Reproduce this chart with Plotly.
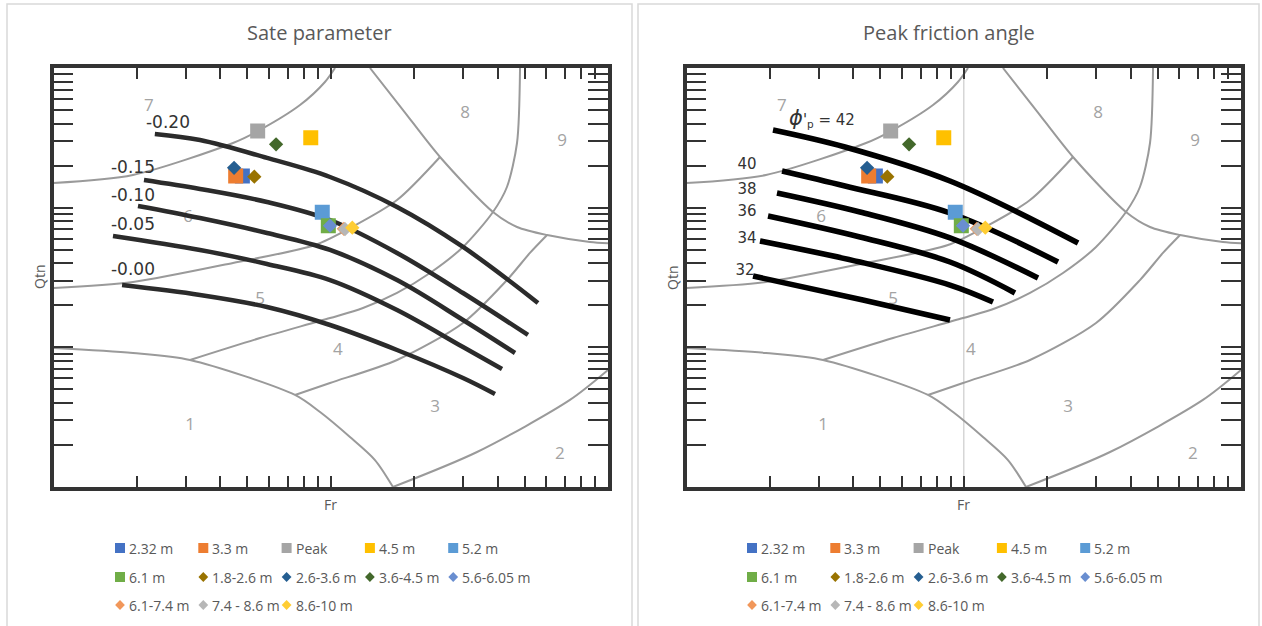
import plotly.graph_objects as go

W, H = 1262, 626

# ---------------- CPT measurements (normalised friction ratio Fr %, Qtn) ----------------
series_names = ["2.32 m", "3.3 m", "Peak", "4.5 m", "5.2 m", "6.1 m", "1.8-2.6 m",
                "2.6-3.6 m", "3.6-4.5 m", "5.6-6.05 m", "6.1-7.4 m", "7.4 - 8.6 m", "8.6-10 m"]
series_fr = [0.480, 0.454, 0.545, 0.847, 0.932, 0.980, 0.530, 0.448, 0.635, 0.994, 1.115, 1.126, 1.196]
series_qtn = [168.6, 168.6, 354.0, 317.0, 92.6, 74.3, 166.6, 193.0, 284.0, 74.3, 70.5, 70.3, 71.9]
series_colors = ["#4472C4", "#ED7D31", "#A5A5A5", "#FFC000", "#5B9BD5", "#70AD47", "#997300",
                 "#255E91", "#43682B", "#698ED0", "#F1975A", "#B7B7B7", "#FFCD33"]
series_symbols = ["square"] * 6 + ["diamond"] * 7

# ---------------- Soil behaviour type zone boundaries (Robertson chart) ----------------
zone_fr = [
    [0.1, 0.1935, 0.3107, 0.743, 0.915, 1.173, 1.444, 1.677],                       # zone 1
    [1.677, 3.37, 7.29, 10.0],                                                       # 2 / 3
    [0.743, 0.994, 1.734, 3.0, 4.32, 5.23, 6.03],                                    # 3 / 4
    [0.3107, 0.5558, 0.994, 1.307, 1.734, 2.28, 3.0, 3.847, 4.32, 4.697, 4.816],     # 4 / 5 and 8 / 9
    [0.1, 0.1935, 0.444, 0.877, 1.193, 1.734, 2.478],                                # 5 / 6
    [0.1, 0.1935, 0.444, 0.5464, 0.7747, 0.953, 1.036],                              # 6 / 7
    [1.385, 1.823, 2.478, 3.847, 4.697, 6.03, 8.61, 10.0],                           # 8 - 9 limit
]
zone_qtn = [
    [9.89, 9.11, 8.12, 4.56, 3.44, 2.28, 1.56, 1.0],
    [1.0, 1.78, 4.2, 6.88],
    [4.56, 5.56, 8.12, 14.94, 30.3, 47.4, 63.7],
    [8.12, 11.66, 16.2, 19.12, 24.5, 34.05, 52.3, 93.1, 140.6, 290.4, 1000.0],
    [26.6, 29.4, 40.2, 54.0, 72.7, 113.4, 230.6],
    [150.2, 171.3, 290.4, 353.9, 543.0, 794.0, 1000.0],
    [1000.0, 500.0, 230.6, 93.1, 72.7, 63.7, 56.8, 55.6],
]
zone_labels = ["1", "2", "3", "4", "5", "6", "7", "8", "9"]
zone_label_fr = [0.3107, 6.71, 2.377, 1.062, 0.5558, 0.3057, 0.221, 3.05, 6.83]
zone_label_qtn = [2.73, 1.694, 3.68, 9.41, 21.8, 84.3, 525.8, 468.4, 295.2]

# ---------------- State parameter contours ----------------
psi_labels = ["-0.20", "-0.15", "-0.10", "-0.05", "-0.00"]
psi_fr = [
    [0.232, 0.3376, 0.589, 0.994, 1.734, 3.0, 5.59],
    [0.212, 0.3376, 0.589, 0.994, 1.734, 3.0, 5.145],
    [0.2017, 0.3376, 0.589, 0.994, 1.734, 3.0, 4.62],
    [0.1639, 0.3376, 0.589, 0.994, 1.734, 3.0, 4.147],
    [0.1767, 0.3376, 0.589, 0.994, 1.734, 3.0, 3.912],
]
psi_qtn = [
    [337.0, 305.0, 227.0, 165.8, 101.1, 52.3, 20.8],
    [157.8, 136.1, 109.8, 81.6, 47.4, 24.5, 12.26],
    [102.8, 84.3, 65.9, 49.8, 30.3, 15.7, 9.11],
    [62.7, 49.8, 39.5, 30.3, 18.5, 10.05, 7.0],
    [27.9, 23.7, 19.45, 14.45, 9.57, 6.03, 4.63],
]
psi_label_fr = [0.2588, 0.1935, 0.1935, 0.1935, 0.1935]
psi_label_qtn = [397.0, 189.2, 119.2, 73.9, 35.2]

# ---------------- Peak friction angle contours ----------------
phi_labels = ["<span style='font-size:21px'><i>ϕ</i></span>'<sub>p</sub> = 42", "40", "38", "36", "34", "32"]
phi_fr = [
    [0.2051, 0.373, 0.892, 2.584],
    [0.2211, 0.373, 0.892, 2.188],
    [0.212, 0.4224, 0.892, 1.853],
    [0.1968, 0.4224, 0.892, 1.530],
    [0.1841, 0.4224, 0.892, 1.275],
    [0.1738, 0.4330, 0.892],
]
phi_qtn = [
    [359.7, 271.8, 155.2, 55.8],
    [183.0, 142.9, 91.6, 40.8],
    [127.4, 93.1, 60.7, 31.4],
    [87.2, 61.7, 40.8, 24.5],
    [57.7, 40.8, 27.9, 21.1],
    [32.4, 21.8, 15.7],
]
phi_label_fr = [0.3081, 0.1652, 0.1652, 0.1652, 0.1652, 0.1626]
phi_label_qtn = [417.4, 202.0, 133.8, 93.1, 59.7, 35.2]

panel_titles = ["Sate parameter", "Peak friction angle"]

# ---------------- Layout geometry (pixels) ----------------
PLOT_L = [53.5, 686.5]
PLOT_W = 554.5
PLOT_TOP, PLOT_BOTTOM = 68, 487
FONT = "Open Sans, Lato, sans-serif"
TXT = "#595959"

fig = go.Figure()


def add_panel(xa, ya, contour_fr, contour_qtn, label_txt, label_fr, label_qtn, line_color, line_w,
              label_font, label_size, extra_vline=False):
    if extra_vline:
        # reference line at Fr = 1, beneath everything else
        fig.add_trace(go.Scatter(x=[1, 1], y=[1, 1000], mode="lines", xaxis=xa, yaxis=ya,
                                 line=dict(color="#d6d6d6", width=1.5), hoverinfo="skip", showlegend=False))
    for fr, q in zip(zone_fr, zone_qtn):
        fig.add_trace(go.Scatter(x=fr, y=q, mode="lines", xaxis=xa, yaxis=ya,
                                 line=dict(color="#9a9a9a", width=2, shape="spline", smoothing=0.8),
                                 hoverinfo="skip", showlegend=False))
    fig.add_trace(go.Scatter(x=zone_label_fr, y=zone_label_qtn, text=zone_labels, mode="text",
                             xaxis=xa, yaxis=ya, textfont=dict(family=FONT, size=17, color="#a3a3a3"),
                             hoverinfo="skip", showlegend=False))
    for fr, q in zip(contour_fr, contour_qtn):
        fig.add_trace(go.Scatter(x=fr, y=q, mode="lines", xaxis=xa, yaxis=ya,
                                 line=dict(color=line_color, width=line_w, shape="spline", smoothing=1.0),
                                 hoverinfo="skip", showlegend=False))
    fig.add_trace(go.Scatter(x=label_fr, y=label_qtn, text=label_txt, mode="text", xaxis=xa, yaxis=ya,
                             textfont=dict(family=label_font, size=label_size, color="#333333"),
                             hoverinfo="skip", showlegend=False))
    for name, fr, q, col, sym in zip(series_names, series_fr, series_qtn, series_colors, series_symbols):
        fig.add_trace(go.Scatter(x=[fr], y=[q], mode="markers", name=name, xaxis=xa, yaxis=ya,
                                 marker=dict(symbol=sym, color=col, size=15 if sym == "square" else 11,
                                             line=dict(width=0)),
                                 showlegend=False))


add_panel("x", "y", psi_fr, psi_qtn, psi_labels, psi_label_fr, psi_label_qtn, "#2b2b2b", 4.5,
          "DejaVu Sans", 17)
add_panel("x2", "y2", phi_fr, phi_qtn, phi_labels, phi_label_fr, phi_label_qtn, "#000000", 5.5,
          "DejaVu Sans", 15, extra_vline=True)

# ---------------- Legend keys drawn on a full-page overlay axis ----------------
LEG_X0 = [120, 752]
LEG_DX = 83.3
LEG_Y = [548, 577, 605]
for p in range(2):
    for i, (name, col, sym) in enumerate(zip(series_names, series_colors, series_symbols)):
        r, c = divmod(i, 5)
        kx = LEG_X0[p] + c * LEG_DX
        ky = LEG_Y[r]
        fig.add_trace(go.Scatter(x=[kx], y=[ky], mode="markers", xaxis="x3", yaxis="y3",
                                 marker=dict(symbol=sym, color=col, size=10 if sym == "square" else 7.5,
                                             line=dict(width=0)),
                                 hoverinfo="skip", showlegend=False))
        fig.add_annotation(x=kx + 7, y=ky, xref="x3", yref="y3", text=name, showarrow=False,
                           xanchor="left", yanchor="middle",
                           font=dict(family=FONT, size=14, color=TXT))

# ---------------- Axes ----------------
xt = [m * 10 ** e for e in (-1, 0) for m in range(1, 10)] + [10]
yt = [m * 10 ** e for e in (0, 1, 2) for m in range(1, 10)] + [1000]

common = dict(type="log", showgrid=False, zeroline=False, showticklabels=False, ticks="inside",
              tickwidth=2, tickcolor="#333333", showline=True, linewidth=3.5, linecolor="#333333",
              mirror="ticks", tickmode="array")
ydom = [(H - PLOT_BOTTOM) / H, (H - PLOT_TOP) / H]
layout_axes = {}
for k, (xa, ya) in enumerate([("xaxis", "yaxis"), ("xaxis2", "yaxis2")]):
    xd = [PLOT_L[k] / W, (PLOT_L[k] + PLOT_W) / W]
    layout_axes[xa] = dict(common, range=[-1, 1], tickvals=xt, ticklen=11, domain=xd,
                           anchor="y" if k == 0 else "y2")
    layout_axes[ya] = dict(common, range=[0, 3], tickvals=yt, ticklen=20, domain=ydom,
                           anchor="x" if k == 0 else "x2")
layout_axes["xaxis3"] = dict(range=[0, W], domain=[0, 1], visible=False, anchor="y3")
layout_axes["yaxis3"] = dict(range=[H, 0], domain=[0, 1], visible=False, anchor="x3")

fig.update_layout(width=W, height=H, margin=dict(l=0, r=0, t=0, b=0),
                  paper_bgcolor="white", plot_bgcolor="rgba(0,0,0,0)", showlegend=False,
                  **layout_axes)

# ---------------- Panel frames, titles and axis titles ----------------
frames = [(7, 632), (638, 1259)]
for k, (fx0, fx1) in enumerate(frames):
    fig.add_shape(type="rect", xref="paper", yref="paper", x0=fx0 / W, x1=fx1 / W,
                  y0=-0.01, y1=(H - 4) / H, line=dict(color="#d9d9d9", width=1.5), layer="below")
    cx = (fx0 + fx1) / 2
    fig.add_annotation(x=cx / W, y=(H - 33) / H, xref="paper", yref="paper", text=panel_titles[k],
                       showarrow=False, xanchor="center", yanchor="middle",
                       font=dict(family=FONT, size=20, color=TXT))
    fig.add_annotation(x=(PLOT_L[k] + PLOT_W * 0.5) / W, y=(H - 504) / H, xref="paper", yref="paper",
                       text="Fr", showarrow=False, xanchor="center", yanchor="middle",
                       font=dict(family=FONT, size=14, color=TXT))
    fig.add_annotation(x=(PLOT_L[k] - 14) / W, y=(H - (PLOT_TOP + PLOT_BOTTOM) / 2) / H, xref="paper",
                       yref="paper", text="Qtn", showarrow=False, textangle=-90,
                       xanchor="center", yanchor="middle", font=dict(family=FONT, size=14, color=TXT))

fig.write_html("out.html")
